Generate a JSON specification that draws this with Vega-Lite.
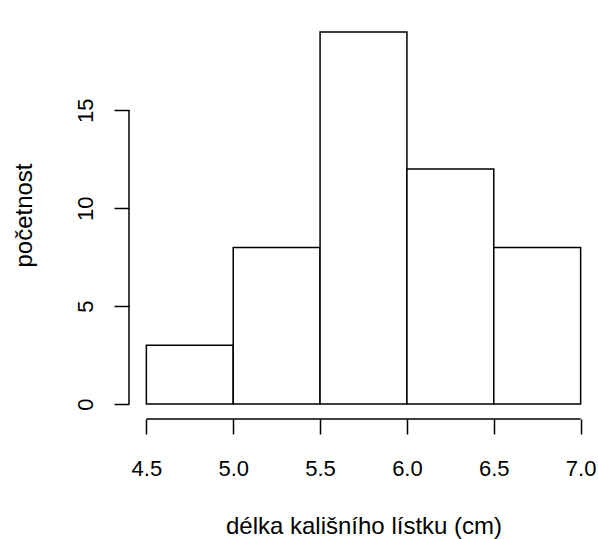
{
  "$schema": "https://vega.github.io/schema/vega-lite/v6.json",
  "width": 469,
  "height": 402,
  "autosize": {"type": "none"},
  "padding": {"left": 129, "top": 17, "right": 0, "bottom": 120},
  "background": "white",
  "config": {"view": {"stroke": null}, "font": "Liberation Sans"},
  "data": {
    "values": [
      {"start": 4.5, "end": 5.0, "count": 3},
      {"start": 5.0, "end": 5.5, "count": 8},
      {"start": 5.5, "end": 6.0, "count": 19},
      {"start": 6.0, "end": 6.5, "count": 12},
      {"start": 6.5, "end": 7.0, "count": 8}
    ]
  },
  "layer": [
    {
      "mark": {"type": "bar", "fill": "white", "stroke": "black", "strokeWidth": 1.5},
      "encoding": {
        "x": {
          "field": "start",
          "type": "quantitative",
          "scale": {"domain": [4.4, 7.1], "nice": false, "zero": false},
          "axis": {
            "values": [4.5, 5, 5.5, 6, 6.5, 7],
            "format": ".1f",
            "domain": false,
            "grid": false,
            "tickSize": 15,
            "tickColor": "black",
            "tickWidth": 1.5,
            "labelFont": "Liberation Sans",
            "labelFontSize": 22,
            "labelColor": "black",
            "labelBaseline": "alphabetic",
            "labelPadding": 41,
            "labelFlush": false,
            "labelOverlap": false,
            "title": "délka kališního lístku (cm)",
            "titleFont": "Liberation Sans",
            "titleFontSize": 24,
            "titleFontWeight": "normal",
            "titleColor": "black",
            "titleBaseline": "alphabetic",
            "titleY": 114
          }
        },
        "x2": {"field": "end"},
        "y": {
          "field": "count",
          "type": "quantitative",
          "scale": {"domain": [-0.76, 19.76], "nice": false, "zero": false},
          "axis": {
            "values": [0, 5, 10, 15],
            "domain": false,
            "grid": false,
            "tickSize": 15,
            "tickColor": "black",
            "tickWidth": 1.5,
            "labelFont": "Liberation Sans",
            "labelFontSize": 22,
            "labelColor": "black",
            "labelAngle": 270,
            "labelAlign": "center",
            "labelBaseline": "alphabetic",
            "labelPadding": 22,
            "labelOverlap": false,
            "title": "početnost",
            "titleFont": "Liberation Sans",
            "titleFontSize": 24,
            "titleFontWeight": "normal",
            "titleColor": "black",
            "titleAngle": 270,
            "titleAlign": "center",
            "titleBaseline": "alphabetic",
            "titleX": -98,
            "titleY": 198
          }
        },
        "y2": {"datum": 0}
      }
    },
    {
      "data": {"values": [{}]},
      "mark": {"type": "rule", "color": "black", "strokeWidth": 1.5},
      "encoding": {
        "x": {"datum": 4.5, "type": "quantitative"},
        "x2": {"datum": 7.0},
        "y": {"datum": -0.76, "type": "quantitative"}
      }
    },
    {
      "data": {"values": [{}]},
      "mark": {"type": "rule", "color": "black", "strokeWidth": 1.5},
      "encoding": {
        "x": {"datum": 4.4, "type": "quantitative"},
        "y": {"datum": 0, "type": "quantitative"},
        "y2": {"datum": 15}
      }
    }
  ]
}
